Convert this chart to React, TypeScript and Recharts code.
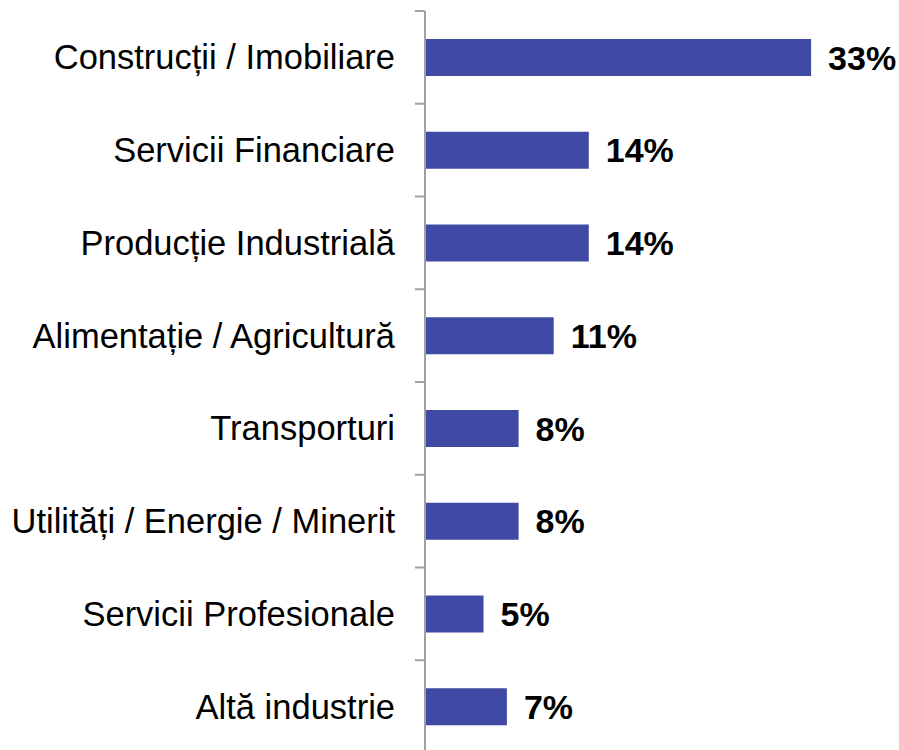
import React from 'react';
import { BarChart, Bar, XAxis, YAxis, LabelList } from 'recharts';

const categories = [
    'Construcții / Imobiliare',
    'Servicii Financiare',
    'Producție Industrială',
    'Alimentație / Agricultură',
    'Transporturi',
    'Utilități / Energie / Minerit',
    'Servicii Profesionale',
    'Altă industrie',
];
const shares = [33, 14, 14, 11, 8, 8, 5, 7];

const data = categories.map((name, i) => ({ name, value: shares[i] }));

const FONT = '"Liberation Sans", Arial, sans-serif';
const AXIS_COLOR = '#a0a0a0';
const TICK_SIZE = 10;
const TICK_MARGIN = 20;

// ticks sit between the categories, labels in the middle of each band
const CategoryTick = (props: any) => {
    const { x, y, payload } = props;
    const half = payload && payload.offset ? payload.offset : 46.4;
    const lineX = x + TICK_MARGIN;
    return (
        <g>
            <line
                x1={lineX}
                x2={lineX + TICK_SIZE}
                y1={y - half}
                y2={y - half}
                stroke={AXIS_COLOR}
                strokeWidth={2}
            />
            <text
                x={x}
                y={y}
                textAnchor="end"
                dominantBaseline="central"
                fontFamily={FONT}
                fontSize={34.5}
                fill="#000"
            >
                {payload.value}
            </text>
        </g>
    );
};

export default function App() {
    return (
        <div style={{ position: 'absolute', left: 0, top: 0, width: 899, height: 750, overflow: 'hidden', background: '#fff' }}>
            <BarChart
                width={899}
                height={753}
                data={data}
                layout="vertical"
                margin={{ top: 11, right: 6, left: 0, bottom: 0 }}
            >
                <XAxis type="number" domain={[0, 40]} hide />
                <YAxis
                    type="category"
                    dataKey="name"
                    width={425}
                    tickLine={false}
                    tickSize={TICK_SIZE}
                    tickMargin={TICK_MARGIN}
                    axisLine={{ stroke: AXIS_COLOR, strokeWidth: 2 }}
                    tick={<CategoryTick />}
                    interval={0}
                />
                <Bar dataKey="value" fill="#404aa5" barSize={37} isAnimationActive={false}>
                    <LabelList
                        dataKey="value"
                        position="right"
                        offset={17}
                        formatter={(v: any) => `${v}%`}
                        style={{ fontFamily: FONT, fontSize: 34, fontWeight: 'bold', fill: '#000' }}
                    />
                </Bar>
            </BarChart>
        </div>
    );
}
